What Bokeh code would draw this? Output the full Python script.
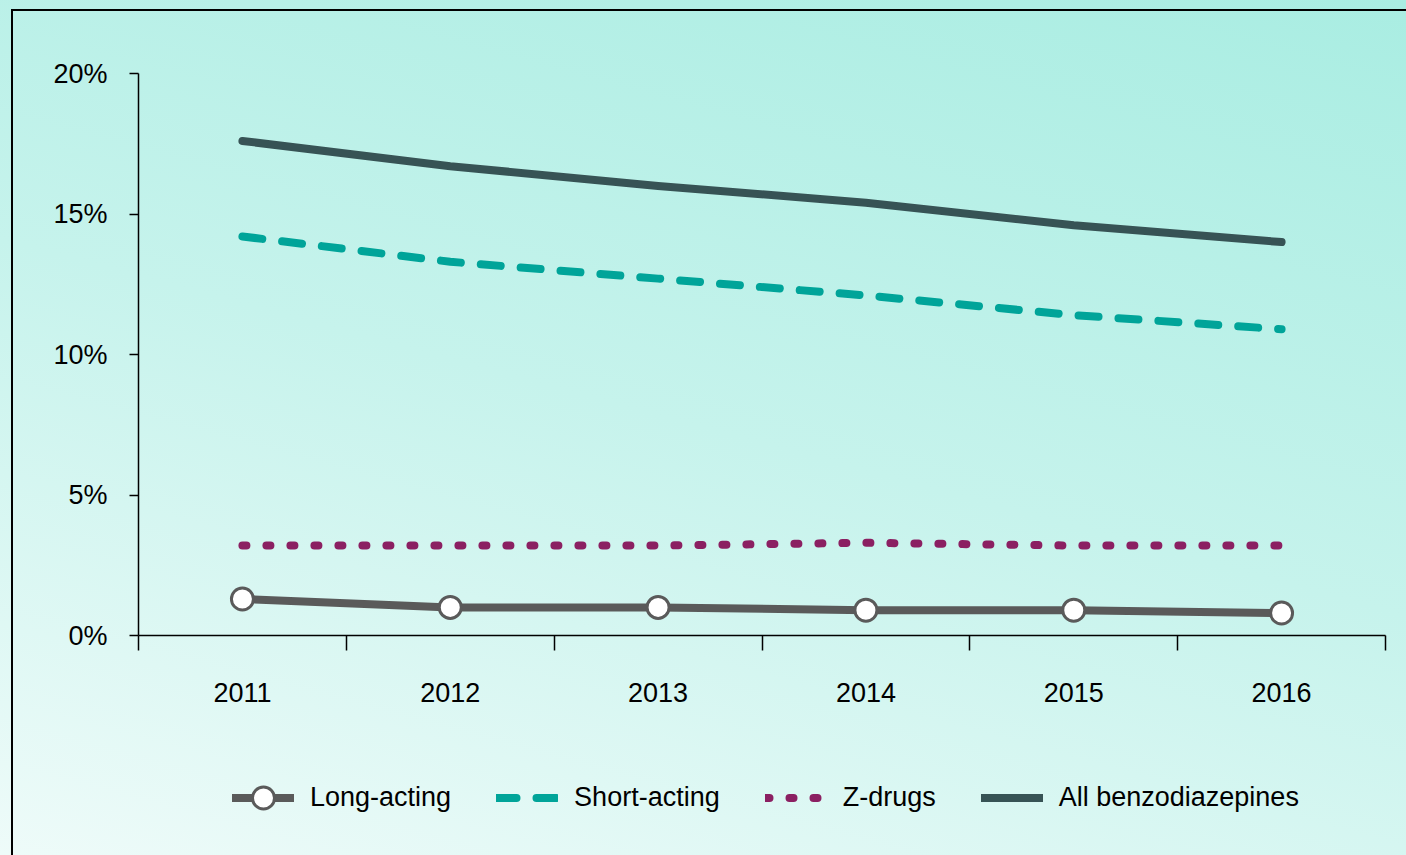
from bokeh.plotting import figure
from bokeh.layouts import column
from bokeh.models import (Range1d, FixedTicker, PrintfTickFormatter, Legend,
                          LegendItem, ColumnDataSource)
from bokeh.embed import file_html
from bokeh.resources import INLINE

# ---- data ----
years = ["2011", "2012", "2013", "2014", "2015", "2016"]
long_acting = [1.3, 1.0, 1.0, 0.9, 0.9, 0.8]
short_acting = [14.2, 13.3, 12.7, 12.1, 11.4, 10.9]
z_drugs = [3.2, 3.2, 3.2, 3.3, 3.2, 3.2]
all_benzo = [17.6, 16.7, 16.0, 15.4, 14.6, 14.0]
y_ticks = [0, 5, 10, 15, 20]
series_names = ["Long-acting", "Short-acting", "Z-drugs", "All benzodiazepines"]

FONT = "'Liberation Sans Narrow', 'Arial Narrow', 'Liberation Sans', sans-serif"
FS = "27px"

# series styles
ST_ALL = dict(line_color="#375355", line_width=8, line_cap="round", line_join="round")
ST_SHORT = dict(line_color="#00a499", line_width=8, line_cap="round", line_dash="20 20")
ST_Z = dict(line_color="#8b2062", line_width=8, line_cap="round", line_dash="4 20")
ST_LONG = dict(line_color="#5a5a5a", line_width=8, line_cap="round", line_join="round")
ST_MARK = dict(size=22, fill_color="white", line_color="#5a5a5a", line_width=3)

xpos = [i + 0.5 for i in range(len(years))]
boundaries = list(range(len(years) + 1))

src = ColumnDataSource(dict(x=xpos, long=long_acting, short=short_acting,
                            z=z_drugs, allb=all_benzo))

p = figure(width=1406, height=760, output_backend="svg", toolbar_location=None,
           x_range=Range1d(0, len(years)), y_range=Range1d(0, 20),
           min_border_left=138, min_border_right=21, min_border_top=73,
           min_border_bottom=125)
p.border_fill_color = None
p.background_fill_color = None
p.outline_line_color = None
p.grid.visible = False

# y axis
ya = p.yaxis[0]
ya.ticker = FixedTicker(ticks=y_ticks)
ya.formatter = PrintfTickFormatter(format="%d%%")
ya.major_tick_in = 0
ya.major_tick_out = 9
ya.minor_tick_in = 0
ya.minor_tick_out = 0
ya.axis_line_color = "black"
ya.axis_line_width = 1.5
ya.major_tick_line_color = "black"
ya.major_tick_line_width = 1.5
ya.major_label_standoff = 22
ya.major_label_text_font = FONT
ya.major_label_text_font_size = FS
ya.major_label_text_color = "black"

# x axis
xa = p.xaxis[0]
xa.ticker = FixedTicker(ticks=xpos, minor_ticks=boundaries)
xa.major_label_overrides = {x: y for x, y in zip(xpos, years)}
xa.major_tick_in = 0
xa.major_tick_out = 0
xa.minor_tick_in = 0
xa.minor_tick_out = 15
xa.minor_tick_line_color = "black"
xa.minor_tick_line_width = 1.5
xa.axis_line_color = "black"
xa.axis_line_width = 1.5
xa.major_label_standoff = 32
xa.major_label_text_font = FONT
xa.major_label_text_font_size = FS
xa.major_label_text_color = "black"

# series
p.line("x", "allb", source=src, **ST_ALL)
p.line("x", "short", source=src, **ST_SHORT)
p.line("x", "z", source=src, **ST_Z)
p.line("x", "long", source=src, **ST_LONG)
p.scatter("x", "long", source=src, **ST_MARK)

# ---- legend strip: same series, drawn out of view so only legend glyphs show ----
p2 = figure(width=1406, height=95, output_backend="svg", toolbar_location=None,
            x_range=Range1d(0, len(years)), y_range=Range1d(100, 101),
            x_axis_location=None, y_axis_location=None,
            min_border=0)
p2.border_fill_color = None
p2.background_fill_color = None
p2.outline_line_color = None
p2.grid.visible = False

l_long = p2.line("x", "long", source=src, **ST_LONG)
l_long_m = p2.scatter("x", "long", source=src, **ST_MARK)
l_short = p2.line("x", "short", source=src, **ST_SHORT)
l_z = p2.line("x", "z", source=src, **ST_Z)
l_all = p2.line("x", "allb", source=src, **ST_ALL)

legend = Legend(items=[
    LegendItem(label=series_names[0], renderers=[l_long, l_long_m]),
    LegendItem(label=series_names[1], renderers=[l_short]),
    LegendItem(label=series_names[2], renderers=[l_z]),
    LegendItem(label=series_names[3], renderers=[l_all]),
], orientation="horizontal", location=(94, 30))
legend.background_fill_alpha = 0
legend.border_line_alpha = 0
legend.padding = 0
legend.margin = 0
legend.glyph_width = 62
legend.glyph_height = 55
legend.label_standoff = 16
legend.spacing = 45
legend.label_text_font = FONT
legend.label_text_font_size = FS
legend.label_text_color = "black"
legend.label_height = 55
p2.add_layout(legend, "center")

layout = column(p, p2, spacing=0)
layout.styles = {
    "background": (
        "linear-gradient(#000, #000) 11px 9px / 100% 2px no-repeat, "
        "linear-gradient(#000, #000) 11px 9px / 2px 100% no-repeat, "
        "linear-gradient(195deg, #a9ede2 0%, #c6f3ec 50%, #eefbf9 100%)"
    )
}

open("out.html", "w").write(file_html(layout, INLINE))
